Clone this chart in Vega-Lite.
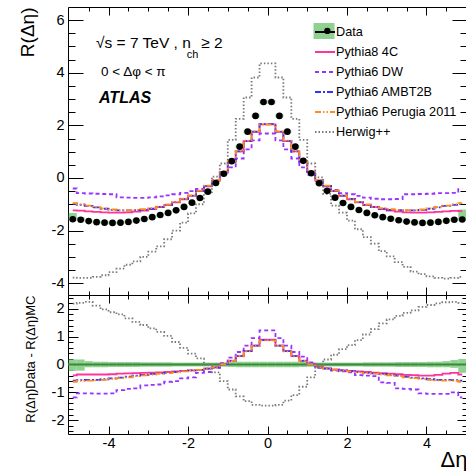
{
"$schema": "https://vega.github.io/schema/vega-lite/v6.json",
"padding": {"left": 17, "top": 6, "right": 0, "bottom": 0},
"background": "white",
"config": {
  "font": "Liberation Sans",
  "view": {"stroke": "black", "strokeWidth": 1},
  "axis": {"grid": false, "domain": false, "tickColor": "black", "tickWidth": 1, "labelColor": "black", "labelFont": "Liberation Sans", "labelFontSize": 14.5, "titleFont": "Liberation Sans", "titleFontWeight": "normal", "titleColor": "black", "labelFlush": false, "labelOverlap": false}
},
"datasets": {
"obs": [
{"model":"Data","x":-4.9,"x0":-5.0,"x1":-4.8,"r":-1.57,"rlo":-1.62,"rhi":-1.33,"dlo":-0.23,"dhi":0.18},
{"model":"Data","x":-4.7,"x0":-4.8,"x1":-4.6,"r":-1.59,"rlo":-1.64,"rhi":-1.50,"dlo":-0.22,"dhi":0.18},
{"model":"Data","x":-4.5,"x0":-4.6,"x1":-4.4,"r":-1.64,"rlo":-1.69,"rhi":-1.59,"dlo":-0.10,"dhi":0.12},
{"model":"Data","x":-4.3,"x0":-4.4,"x1":-4.2,"r":-1.68,"rlo":-1.73,"rhi":-1.63,"dlo":-0.10,"dhi":0.10},
{"model":"Data","x":-4.1,"x0":-4.2,"x1":-4.0,"r":-1.70,"rlo":-1.75,"rhi":-1.65,"dlo":-0.10,"dhi":0.10},
{"model":"Data","x":-3.9,"x0":-4.0,"x1":-3.8,"r":-1.71,"rlo":-1.76,"rhi":-1.66,"dlo":-0.09,"dhi":0.09},
{"model":"Data","x":-3.7,"x0":-3.8,"x1":-3.6,"r":-1.70,"rlo":-1.75,"rhi":-1.65,"dlo":-0.09,"dhi":0.09},
{"model":"Data","x":-3.5,"x0":-3.6,"x1":-3.4,"r":-1.67,"rlo":-1.72,"rhi":-1.62,"dlo":-0.09,"dhi":0.09},
{"model":"Data","x":-3.3,"x0":-3.4,"x1":-3.2,"r":-1.62,"rlo":-1.67,"rhi":-1.57,"dlo":-0.09,"dhi":0.09},
{"model":"Data","x":-3.1,"x0":-3.2,"x1":-3.0,"r":-1.56,"rlo":-1.61,"rhi":-1.51,"dlo":-0.08,"dhi":0.08},
{"model":"Data","x":-2.9,"x0":-3.0,"x1":-2.8,"r":-1.49,"rlo":-1.54,"rhi":-1.44,"dlo":-0.08,"dhi":0.08},
{"model":"Data","x":-2.7,"x0":-2.8,"x1":-2.6,"r":-1.41,"rlo":-1.46,"rhi":-1.36,"dlo":-0.08,"dhi":0.08},
{"model":"Data","x":-2.5,"x0":-2.6,"x1":-2.4,"r":-1.33,"rlo":-1.38,"rhi":-1.28,"dlo":-0.08,"dhi":0.08},
{"model":"Data","x":-2.3,"x0":-2.4,"x1":-2.2,"r":-1.23,"rlo":-1.28,"rhi":-1.18,"dlo":-0.07,"dhi":0.07},
{"model":"Data","x":-2.1,"x0":-2.2,"x1":-2.0,"r":-1.10,"rlo":-1.15,"rhi":-1.05,"dlo":-0.07,"dhi":0.07},
{"model":"Data","x":-1.9,"x0":-2.0,"x1":-1.8,"r":-0.94,"rlo":-0.99,"rhi":-0.89,"dlo":-0.07,"dhi":0.07},
{"model":"Data","x":-1.7,"x0":-1.8,"x1":-1.6,"r":-0.76,"rlo":-0.81,"rhi":-0.71,"dlo":-0.07,"dhi":0.07},
{"model":"Data","x":-1.5,"x0":-1.6,"x1":-1.4,"r":-0.52,"rlo":-0.57,"rhi":-0.47,"dlo":-0.07,"dhi":0.07},
{"model":"Data","x":-1.3,"x0":-1.4,"x1":-1.2,"r":-0.19,"rlo":-0.24,"rhi":-0.14,"dlo":-0.07,"dhi":0.07},
{"model":"Data","x":-1.1,"x0":-1.2,"x1":-1.0,"r":0.16,"rlo":0.11,"rhi":0.21,"dlo":-0.08,"dhi":0.08},
{"model":"Data","x":-0.9,"x0":-1.0,"x1":-0.8,"r":0.64,"rlo":0.58,"rhi":0.70,"dlo":-0.09,"dhi":0.09},
{"model":"Data","x":-0.7,"x0":-0.8,"x1":-0.6,"r":1.19,"rlo":1.13,"rhi":1.25,"dlo":-0.10,"dhi":0.10},
{"model":"Data","x":-0.5,"x0":-0.6,"x1":-0.4,"r":1.76,"rlo":1.70,"rhi":1.82,"dlo":-0.10,"dhi":0.10},
{"model":"Data","x":-0.3,"x0":-0.4,"x1":-0.2,"r":2.36,"rlo":2.30,"rhi":2.42,"dlo":-0.10,"dhi":0.10},
{"model":"Data","x":-0.1,"x0":-0.2,"x1":0.0,"r":2.89,"rlo":2.83,"rhi":2.95,"dlo":-0.10,"dhi":0.10},
{"model":"Data","x":0.1,"x0":0.0,"x1":0.2,"r":2.89,"rlo":2.83,"rhi":2.95,"dlo":-0.10,"dhi":0.10},
{"model":"Data","x":0.3,"x0":0.2,"x1":0.4,"r":2.36,"rlo":2.30,"rhi":2.42,"dlo":-0.10,"dhi":0.10},
{"model":"Data","x":0.5,"x0":0.4,"x1":0.6,"r":1.76,"rlo":1.70,"rhi":1.82,"dlo":-0.10,"dhi":0.10},
{"model":"Data","x":0.7,"x0":0.6,"x1":0.8,"r":1.19,"rlo":1.13,"rhi":1.25,"dlo":-0.10,"dhi":0.10},
{"model":"Data","x":0.9,"x0":0.8,"x1":1.0,"r":0.65,"rlo":0.59,"rhi":0.71,"dlo":-0.09,"dhi":0.09},
{"model":"Data","x":1.1,"x0":1.0,"x1":1.2,"r":0.18,"rlo":0.13,"rhi":0.23,"dlo":-0.08,"dhi":0.08},
{"model":"Data","x":1.3,"x0":1.2,"x1":1.4,"r":-0.20,"rlo":-0.25,"rhi":-0.15,"dlo":-0.07,"dhi":0.07},
{"model":"Data","x":1.5,"x0":1.4,"x1":1.6,"r":-0.49,"rlo":-0.54,"rhi":-0.44,"dlo":-0.07,"dhi":0.07},
{"model":"Data","x":1.7,"x0":1.6,"x1":1.8,"r":-0.75,"rlo":-0.80,"rhi":-0.70,"dlo":-0.07,"dhi":0.07},
{"model":"Data","x":1.9,"x0":1.8,"x1":2.0,"r":-0.95,"rlo":-1.00,"rhi":-0.90,"dlo":-0.07,"dhi":0.07},
{"model":"Data","x":2.1,"x0":2.0,"x1":2.2,"r":-1.10,"rlo":-1.15,"rhi":-1.05,"dlo":-0.07,"dhi":0.07},
{"model":"Data","x":2.3,"x0":2.2,"x1":2.4,"r":-1.22,"rlo":-1.27,"rhi":-1.17,"dlo":-0.07,"dhi":0.07},
{"model":"Data","x":2.5,"x0":2.4,"x1":2.6,"r":-1.33,"rlo":-1.38,"rhi":-1.28,"dlo":-0.08,"dhi":0.08},
{"model":"Data","x":2.7,"x0":2.6,"x1":2.8,"r":-1.42,"rlo":-1.47,"rhi":-1.37,"dlo":-0.08,"dhi":0.08},
{"model":"Data","x":2.9,"x0":2.8,"x1":3.0,"r":-1.49,"rlo":-1.54,"rhi":-1.44,"dlo":-0.08,"dhi":0.08},
{"model":"Data","x":3.1,"x0":3.0,"x1":3.2,"r":-1.55,"rlo":-1.60,"rhi":-1.50,"dlo":-0.08,"dhi":0.08},
{"model":"Data","x":3.3,"x0":3.2,"x1":3.4,"r":-1.61,"rlo":-1.66,"rhi":-1.56,"dlo":-0.09,"dhi":0.09},
{"model":"Data","x":3.5,"x0":3.4,"x1":3.6,"r":-1.66,"rlo":-1.71,"rhi":-1.61,"dlo":-0.09,"dhi":0.09},
{"model":"Data","x":3.7,"x0":3.6,"x1":3.8,"r":-1.69,"rlo":-1.74,"rhi":-1.64,"dlo":-0.09,"dhi":0.09},
{"model":"Data","x":3.9,"x0":3.8,"x1":4.0,"r":-1.71,"rlo":-1.76,"rhi":-1.66,"dlo":-0.09,"dhi":0.09},
{"model":"Data","x":4.1,"x0":4.0,"x1":4.2,"r":-1.70,"rlo":-1.75,"rhi":-1.65,"dlo":-0.10,"dhi":0.10},
{"model":"Data","x":4.3,"x0":4.2,"x1":4.4,"r":-1.67,"rlo":-1.72,"rhi":-1.62,"dlo":-0.10,"dhi":0.10},
{"model":"Data","x":4.5,"x0":4.4,"x1":4.6,"r":-1.63,"rlo":-1.68,"rhi":-1.58,"dlo":-0.10,"dhi":0.12},
{"model":"Data","x":4.7,"x0":4.6,"x1":4.8,"r":-1.59,"rlo":-1.64,"rhi":-1.52,"dlo":-0.12,"dhi":0.16},
{"model":"Data","x":4.9,"x0":4.8,"x1":5.0,"r":-1.58,"rlo":-1.63,"rhi":-1.20,"dlo":-0.30,"dhi":0.20}
],
"mc": [
{"model":"Pythia8 4C","x":-4.9,"r":-1.23,"d":-0.39},{"model":"Pythia8 4C","x":-4.7,"r":-1.24,"d":-0.36},{"model":"Pythia8 4C","x":-4.5,"r":-1.27,"d":-0.36},{"model":"Pythia8 4C","x":-4.3,"r":-1.29,"d":-0.36},{"model":"Pythia8 4C","x":-4.1,"r":-1.31,"d":-0.36},
{"model":"Pythia8 4C","x":-3.9,"r":-1.32,"d":-0.35},{"model":"Pythia8 4C","x":-3.7,"r":-1.32,"d":-0.33},{"model":"Pythia8 4C","x":-3.5,"r":-1.31,"d":-0.32},{"model":"Pythia8 4C","x":-3.3,"r":-1.28,"d":-0.31},{"model":"Pythia8 4C","x":-3.1,"r":-1.24,"d":-0.30},
{"model":"Pythia8 4C","x":-2.9,"r":-1.18,"d":-0.29},{"model":"Pythia8 4C","x":-2.7,"r":-1.11,"d":-0.28},{"model":"Pythia8 4C","x":-2.5,"r":-1.03,"d":-0.27},{"model":"Pythia8 4C","x":-2.3,"r":-0.93,"d":-0.25},{"model":"Pythia8 4C","x":-2.1,"r":-0.81,"d":-0.23},
{"model":"Pythia8 4C","x":-1.9,"r":-0.68,"d":-0.21},{"model":"Pythia8 4C","x":-1.7,"r":-0.50,"d":-0.19},{"model":"Pythia8 4C","x":-1.5,"r":-0.32,"d":-0.15},{"model":"Pythia8 4C","x":-1.3,"r":-0.10,"d":-0.10},{"model":"Pythia8 4C","x":-1.1,"r":0.22,"d":0.02},
{"model":"Pythia8 4C","x":-0.9,"r":0.62,"d":0.14},{"model":"Pythia8 4C","x":-0.7,"r":1.01,"d":0.30},{"model":"Pythia8 4C","x":-0.5,"r":1.40,"d":0.48},{"model":"Pythia8 4C","x":-0.3,"r":1.75,"d":0.68},{"model":"Pythia8 4C","x":-0.1,"r":2.04,"d":0.89},
{"model":"Pythia8 4C","x":0.1,"r":2.04,"d":0.89},{"model":"Pythia8 4C","x":0.3,"r":1.75,"d":0.68},{"model":"Pythia8 4C","x":0.5,"r":1.40,"d":0.48},{"model":"Pythia8 4C","x":0.7,"r":1.01,"d":0.30},{"model":"Pythia8 4C","x":0.9,"r":0.62,"d":0.14},
{"model":"Pythia8 4C","x":1.1,"r":0.22,"d":0.02},{"model":"Pythia8 4C","x":1.3,"r":-0.10,"d":-0.08},{"model":"Pythia8 4C","x":1.5,"r":-0.32,"d":-0.14},{"model":"Pythia8 4C","x":1.7,"r":-0.50,"d":-0.18},{"model":"Pythia8 4C","x":1.9,"r":-0.68,"d":-0.21},
{"model":"Pythia8 4C","x":2.1,"r":-0.81,"d":-0.23},{"model":"Pythia8 4C","x":2.3,"r":-0.93,"d":-0.25},{"model":"Pythia8 4C","x":2.5,"r":-1.03,"d":-0.27},{"model":"Pythia8 4C","x":2.7,"r":-1.11,"d":-0.29},{"model":"Pythia8 4C","x":2.9,"r":-1.18,"d":-0.31},
{"model":"Pythia8 4C","x":3.1,"r":-1.24,"d":-0.33},{"model":"Pythia8 4C","x":3.3,"r":-1.28,"d":-0.35},{"model":"Pythia8 4C","x":3.5,"r":-1.31,"d":-0.37},{"model":"Pythia8 4C","x":3.7,"r":-1.32,"d":-0.38},{"model":"Pythia8 4C","x":3.9,"r":-1.32,"d":-0.40},
{"model":"Pythia8 4C","x":4.1,"r":-1.31,"d":-0.40},{"model":"Pythia8 4C","x":4.3,"r":-1.29,"d":-0.37},{"model":"Pythia8 4C","x":4.5,"r":-1.27,"d":-0.33},{"model":"Pythia8 4C","x":4.7,"r":-1.25,"d":-0.30},{"model":"Pythia8 4C","x":4.9,"r":-1.26,"d":-0.36},

{"model":"Pythia6 DW","x":-4.9,"r":-0.40,"d":-1.18},{"model":"Pythia6 DW","x":-4.7,"r":-0.58,"d":-1.04},{"model":"Pythia6 DW","x":-4.5,"r":-0.59,"d":-1.04},{"model":"Pythia6 DW","x":-4.3,"r":-0.60,"d":-1.05},{"model":"Pythia6 DW","x":-4.1,"r":-0.61,"d":-1.05},
{"model":"Pythia6 DW","x":-3.9,"r":-0.62,"d":-1.04},{"model":"Pythia6 DW","x":-3.7,"r":-0.74,"d":-0.92},{"model":"Pythia6 DW","x":-3.5,"r":-0.75,"d":-0.88},{"model":"Pythia6 DW","x":-3.3,"r":-0.76,"d":-0.86},{"model":"Pythia6 DW","x":-3.1,"r":-0.76,"d":-0.75},
{"model":"Pythia6 DW","x":-2.9,"r":-0.74,"d":-0.73},{"model":"Pythia6 DW","x":-2.7,"r":-0.70,"d":-0.72},{"model":"Pythia6 DW","x":-2.5,"r":-0.66,"d":-0.62},{"model":"Pythia6 DW","x":-2.3,"r":-0.62,"d":-0.60},{"model":"Pythia6 DW","x":-2.1,"r":-0.57,"d":-0.50},
{"model":"Pythia6 DW","x":-1.9,"r":-0.50,"d":-0.46},{"model":"Pythia6 DW","x":-1.7,"r":-0.42,"d":-0.30},{"model":"Pythia6 DW","x":-1.5,"r":-0.30,"d":-0.27},{"model":"Pythia6 DW","x":-1.3,"r":-0.12,"d":-0.12},{"model":"Pythia6 DW","x":-1.1,"r":0.12,"d":0.05},
{"model":"Pythia6 DW","x":-0.9,"r":0.40,"d":0.25},{"model":"Pythia6 DW","x":-0.7,"r":0.74,"d":0.45},{"model":"Pythia6 DW","x":-0.5,"r":1.09,"d":0.68},{"model":"Pythia6 DW","x":-0.3,"r":1.43,"d":0.95},{"model":"Pythia6 DW","x":-0.1,"r":1.69,"d":1.23},
{"model":"Pythia6 DW","x":0.1,"r":1.69,"d":1.23},{"model":"Pythia6 DW","x":0.3,"r":1.43,"d":0.95},{"model":"Pythia6 DW","x":0.5,"r":1.09,"d":0.68},{"model":"Pythia6 DW","x":0.7,"r":0.74,"d":0.45},{"model":"Pythia6 DW","x":0.9,"r":0.40,"d":0.28},
{"model":"Pythia6 DW","x":1.1,"r":0.12,"d":0.08},{"model":"Pythia6 DW","x":1.3,"r":-0.12,"d":-0.12},{"model":"Pythia6 DW","x":1.5,"r":-0.30,"d":-0.14},{"model":"Pythia6 DW","x":1.7,"r":-0.45,"d":-0.22},{"model":"Pythia6 DW","x":1.9,"r":-0.58,"d":-0.25},
{"model":"Pythia6 DW","x":2.1,"r":-0.62,"d":-0.28},{"model":"Pythia6 DW","x":2.3,"r":-0.68,"d":-0.38},{"model":"Pythia6 DW","x":2.5,"r":-0.75,"d":-0.40},{"model":"Pythia6 DW","x":2.7,"r":-0.79,"d":-0.42},{"model":"Pythia6 DW","x":2.9,"r":-0.81,"d":-0.64},
{"model":"Pythia6 DW","x":3.1,"r":-0.81,"d":-0.66},{"model":"Pythia6 DW","x":3.3,"r":-0.80,"d":-0.86},{"model":"Pythia6 DW","x":3.5,"r":-0.62,"d":-0.88},{"model":"Pythia6 DW","x":3.7,"r":-0.62,"d":-0.90},{"model":"Pythia6 DW","x":3.9,"r":-0.61,"d":-1.04},
{"model":"Pythia6 DW","x":4.1,"r":-0.60,"d":-1.06},{"model":"Pythia6 DW","x":4.3,"r":-0.58,"d":-1.06},{"model":"Pythia6 DW","x":4.5,"r":-0.58,"d":-1.06},{"model":"Pythia6 DW","x":4.7,"r":-0.57,"d":-1.00},{"model":"Pythia6 DW","x":4.9,"r":-0.43,"d":-1.18},

{"model":"Pythia6 AMBT2B","x":-4.9,"r":-0.98,"d":-0.58},{"model":"Pythia6 AMBT2B","x":-4.7,"r":-1.02,"d":-0.56},{"model":"Pythia6 AMBT2B","x":-4.5,"r":-1.06,"d":-0.55},{"model":"Pythia6 AMBT2B","x":-4.3,"r":-1.12,"d":-0.55},{"model":"Pythia6 AMBT2B","x":-4.1,"r":-1.17,"d":-0.53},
{"model":"Pythia6 AMBT2B","x":-3.9,"r":-1.21,"d":-0.50},{"model":"Pythia6 AMBT2B","x":-3.7,"r":-1.23,"d":-0.47},{"model":"Pythia6 AMBT2B","x":-3.5,"r":-1.23,"d":-0.44},{"model":"Pythia6 AMBT2B","x":-3.3,"r":-1.22,"d":-0.40},{"model":"Pythia6 AMBT2B","x":-3.1,"r":-1.21,"d":-0.37},
{"model":"Pythia6 AMBT2B","x":-2.9,"r":-1.17,"d":-0.34},{"model":"Pythia6 AMBT2B","x":-2.7,"r":-1.10,"d":-0.32},{"model":"Pythia6 AMBT2B","x":-2.5,"r":-1.02,"d":-0.30},{"model":"Pythia6 AMBT2B","x":-2.3,"r":-0.92,"d":-0.27},{"model":"Pythia6 AMBT2B","x":-2.1,"r":-0.80,"d":-0.24},
{"model":"Pythia6 AMBT2B","x":-1.9,"r":-0.67,"d":-0.21},{"model":"Pythia6 AMBT2B","x":-1.7,"r":-0.49,"d":-0.19},{"model":"Pythia6 AMBT2B","x":-1.5,"r":-0.30,"d":-0.15},{"model":"Pythia6 AMBT2B","x":-1.3,"r":-0.09,"d":-0.10},{"model":"Pythia6 AMBT2B","x":-1.1,"r":0.23,"d":0.01},
{"model":"Pythia6 AMBT2B","x":-0.9,"r":0.62,"d":0.13},{"model":"Pythia6 AMBT2B","x":-0.7,"r":1.01,"d":0.30},{"model":"Pythia6 AMBT2B","x":-0.5,"r":1.40,"d":0.48},{"model":"Pythia6 AMBT2B","x":-0.3,"r":1.76,"d":0.68},{"model":"Pythia6 AMBT2B","x":-0.1,"r":2.05,"d":0.88},
{"model":"Pythia6 AMBT2B","x":0.1,"r":2.05,"d":0.88},{"model":"Pythia6 AMBT2B","x":0.3,"r":1.76,"d":0.68},{"model":"Pythia6 AMBT2B","x":0.5,"r":1.40,"d":0.48},{"model":"Pythia6 AMBT2B","x":0.7,"r":1.01,"d":0.30},{"model":"Pythia6 AMBT2B","x":0.9,"r":0.62,"d":0.13},
{"model":"Pythia6 AMBT2B","x":1.1,"r":0.23,"d":0.01},{"model":"Pythia6 AMBT2B","x":1.3,"r":-0.09,"d":-0.10},{"model":"Pythia6 AMBT2B","x":1.5,"r":-0.30,"d":-0.15},{"model":"Pythia6 AMBT2B","x":1.7,"r":-0.49,"d":-0.19},{"model":"Pythia6 AMBT2B","x":1.9,"r":-0.67,"d":-0.21},
{"model":"Pythia6 AMBT2B","x":2.1,"r":-0.80,"d":-0.24},{"model":"Pythia6 AMBT2B","x":2.3,"r":-0.92,"d":-0.27},{"model":"Pythia6 AMBT2B","x":2.5,"r":-1.02,"d":-0.30},{"model":"Pythia6 AMBT2B","x":2.7,"r":-1.10,"d":-0.32},{"model":"Pythia6 AMBT2B","x":2.9,"r":-1.17,"d":-0.34},
{"model":"Pythia6 AMBT2B","x":3.1,"r":-1.21,"d":-0.37},{"model":"Pythia6 AMBT2B","x":3.3,"r":-1.22,"d":-0.40},{"model":"Pythia6 AMBT2B","x":3.5,"r":-1.23,"d":-0.44},{"model":"Pythia6 AMBT2B","x":3.7,"r":-1.23,"d":-0.47},{"model":"Pythia6 AMBT2B","x":3.9,"r":-1.21,"d":-0.50},
{"model":"Pythia6 AMBT2B","x":4.1,"r":-1.17,"d":-0.53},{"model":"Pythia6 AMBT2B","x":4.3,"r":-1.12,"d":-0.55},{"model":"Pythia6 AMBT2B","x":4.5,"r":-1.06,"d":-0.55},{"model":"Pythia6 AMBT2B","x":4.7,"r":-1.02,"d":-0.56},{"model":"Pythia6 AMBT2B","x":4.9,"r":-0.98,"d":-0.58},

{"model":"Pythia6 Perugia 2011","x":-4.9,"r":-0.96,"d":-0.62},{"model":"Pythia6 Perugia 2011","x":-4.7,"r":-1.00,"d":-0.59},{"model":"Pythia6 Perugia 2011","x":-4.5,"r":-1.05,"d":-0.58},{"model":"Pythia6 Perugia 2011","x":-4.3,"r":-1.11,"d":-0.57},{"model":"Pythia6 Perugia 2011","x":-4.1,"r":-1.16,"d":-0.55},
{"model":"Pythia6 Perugia 2011","x":-3.9,"r":-1.20,"d":-0.52},{"model":"Pythia6 Perugia 2011","x":-3.7,"r":-1.22,"d":-0.49},{"model":"Pythia6 Perugia 2011","x":-3.5,"r":-1.22,"d":-0.46},{"model":"Pythia6 Perugia 2011","x":-3.3,"r":-1.21,"d":-0.42},{"model":"Pythia6 Perugia 2011","x":-3.1,"r":-1.19,"d":-0.39},
{"model":"Pythia6 Perugia 2011","x":-2.9,"r":-1.15,"d":-0.36},{"model":"Pythia6 Perugia 2011","x":-2.7,"r":-1.09,"d":-0.33},{"model":"Pythia6 Perugia 2011","x":-2.5,"r":-1.01,"d":-0.31},{"model":"Pythia6 Perugia 2011","x":-2.3,"r":-0.91,"d":-0.28},{"model":"Pythia6 Perugia 2011","x":-2.1,"r":-0.79,"d":-0.25},
{"model":"Pythia6 Perugia 2011","x":-1.9,"r":-0.66,"d":-0.22},{"model":"Pythia6 Perugia 2011","x":-1.7,"r":-0.48,"d":-0.19},{"model":"Pythia6 Perugia 2011","x":-1.5,"r":-0.29,"d":-0.15},{"model":"Pythia6 Perugia 2011","x":-1.3,"r":-0.08,"d":-0.10},{"model":"Pythia6 Perugia 2011","x":-1.1,"r":0.24,"d":0.01},
{"model":"Pythia6 Perugia 2011","x":-0.9,"r":0.63,"d":0.13},{"model":"Pythia6 Perugia 2011","x":-0.7,"r":1.03,"d":0.29},{"model":"Pythia6 Perugia 2011","x":-0.5,"r":1.42,"d":0.47},{"model":"Pythia6 Perugia 2011","x":-0.3,"r":1.77,"d":0.67},{"model":"Pythia6 Perugia 2011","x":-0.1,"r":2.03,"d":0.87},
{"model":"Pythia6 Perugia 2011","x":0.1,"r":2.03,"d":0.87},{"model":"Pythia6 Perugia 2011","x":0.3,"r":1.77,"d":0.67},{"model":"Pythia6 Perugia 2011","x":0.5,"r":1.42,"d":0.47},{"model":"Pythia6 Perugia 2011","x":0.7,"r":1.03,"d":0.29},{"model":"Pythia6 Perugia 2011","x":0.9,"r":0.63,"d":0.13},
{"model":"Pythia6 Perugia 2011","x":1.1,"r":0.24,"d":0.01},{"model":"Pythia6 Perugia 2011","x":1.3,"r":-0.08,"d":-0.10},{"model":"Pythia6 Perugia 2011","x":1.5,"r":-0.29,"d":-0.15},{"model":"Pythia6 Perugia 2011","x":1.7,"r":-0.48,"d":-0.19},{"model":"Pythia6 Perugia 2011","x":1.9,"r":-0.66,"d":-0.22},
{"model":"Pythia6 Perugia 2011","x":2.1,"r":-0.79,"d":-0.25},{"model":"Pythia6 Perugia 2011","x":2.3,"r":-0.91,"d":-0.28},{"model":"Pythia6 Perugia 2011","x":2.5,"r":-1.01,"d":-0.31},{"model":"Pythia6 Perugia 2011","x":2.7,"r":-1.09,"d":-0.33},{"model":"Pythia6 Perugia 2011","x":2.9,"r":-1.15,"d":-0.36},
{"model":"Pythia6 Perugia 2011","x":3.1,"r":-1.19,"d":-0.39},{"model":"Pythia6 Perugia 2011","x":3.3,"r":-1.21,"d":-0.42},{"model":"Pythia6 Perugia 2011","x":3.5,"r":-1.22,"d":-0.46},{"model":"Pythia6 Perugia 2011","x":3.7,"r":-1.22,"d":-0.49},{"model":"Pythia6 Perugia 2011","x":3.9,"r":-1.20,"d":-0.52},
{"model":"Pythia6 Perugia 2011","x":4.1,"r":-1.16,"d":-0.55},{"model":"Pythia6 Perugia 2011","x":4.3,"r":-1.11,"d":-0.57},{"model":"Pythia6 Perugia 2011","x":4.5,"r":-1.05,"d":-0.58},{"model":"Pythia6 Perugia 2011","x":4.7,"r":-1.00,"d":-0.59},{"model":"Pythia6 Perugia 2011","x":4.9,"r":-0.96,"d":-0.62},

{"model":"Herwig++","x":-4.9,"r":-3.79,"d":2.19},{"model":"Herwig++","x":-4.7,"r":-3.80,"d":2.22},{"model":"Herwig++","x":-4.5,"r":-3.80,"d":2.25},{"model":"Herwig++","x":-4.3,"r":-3.76,"d":2.12},{"model":"Herwig++","x":-4.1,"r":-3.70,"d":1.98},
{"model":"Herwig++","x":-3.9,"r":-3.58,"d":1.88},{"model":"Herwig++","x":-3.7,"r":-3.45,"d":1.80},{"model":"Herwig++","x":-3.5,"r":-3.30,"d":1.66},{"model":"Herwig++","x":-3.3,"r":-3.17,"d":1.53},{"model":"Herwig++","x":-3.1,"r":-3.00,"d":1.42},
{"model":"Herwig++","x":-2.9,"r":-2.80,"d":1.30},{"model":"Herwig++","x":-2.7,"r":-2.60,"d":1.17},{"model":"Herwig++","x":-2.5,"r":-2.33,"d":1.03},{"model":"Herwig++","x":-2.3,"r":-2.00,"d":0.81},{"model":"Herwig++","x":-2.1,"r":-1.70,"d":0.60},
{"model":"Herwig++","x":-1.9,"r":-1.35,"d":0.39},{"model":"Herwig++","x":-1.7,"r":-1.00,"d":0.22},{"model":"Herwig++","x":-1.5,"r":-0.55,"d":0.00},{"model":"Herwig++","x":-1.3,"r":0.05,"d":-0.28},{"model":"Herwig++","x":-1.1,"r":0.55,"d":-0.60},
{"model":"Herwig++","x":-0.9,"r":1.45,"d":-0.90},{"model":"Herwig++","x":-0.7,"r":2.25,"d":-1.15},{"model":"Herwig++","x":-0.5,"r":3.06,"d":-1.32},{"model":"Herwig++","x":-0.3,"r":3.82,"d":-1.45},{"model":"Herwig++","x":-0.1,"r":4.36,"d":-1.48},
{"model":"Herwig++","x":0.1,"r":4.36,"d":-1.48},{"model":"Herwig++","x":0.3,"r":3.82,"d":-1.45},{"model":"Herwig++","x":0.5,"r":3.06,"d":-1.30},{"model":"Herwig++","x":0.7,"r":2.25,"d":-1.10},{"model":"Herwig++","x":0.9,"r":1.45,"d":-0.80},
{"model":"Herwig++","x":1.1,"r":0.55,"d":-0.46},{"model":"Herwig++","x":1.3,"r":0.02,"d":-0.10},{"model":"Herwig++","x":1.5,"r":-0.60,"d":0.18},{"model":"Herwig++","x":1.7,"r":-1.05,"d":0.35},{"model":"Herwig++","x":1.9,"r":-1.32,"d":0.55},
{"model":"Herwig++","x":2.1,"r":-1.62,"d":0.70},{"model":"Herwig++","x":2.3,"r":-1.95,"d":0.88},{"model":"Herwig++","x":2.5,"r":-2.25,"d":1.08},{"model":"Herwig++","x":2.7,"r":-2.50,"d":1.27},{"model":"Herwig++","x":2.9,"r":-2.78,"d":1.48},
{"model":"Herwig++","x":3.1,"r":-2.98,"d":1.62},{"model":"Herwig++","x":3.3,"r":-3.20,"d":1.75},{"model":"Herwig++","x":3.5,"r":-3.38,"d":1.86},{"model":"Herwig++","x":3.7,"r":-3.56,"d":1.95},{"model":"Herwig++","x":3.9,"r":-3.66,"d":2.07},
{"model":"Herwig++","x":4.1,"r":-3.74,"d":2.14},{"model":"Herwig++","x":4.3,"r":-3.80,"d":2.20},{"model":"Herwig++","x":4.5,"r":-3.83,"d":2.24},{"model":"Herwig++","x":4.7,"r":-3.80,"d":2.25},{"model":"Herwig++","x":4.9,"r":-3.76,"d":2.22}
]
},
"spacing": 0,
"bounds": "flush",
"resolve": {
  "scale": {"x": "independent", "y": "independent", "stroke": "independent", "strokeDash": "independent", "fill": "independent", "shape": "independent"},
  "legend": {"stroke": "independent", "strokeDash": "independent", "fill": "independent", "shape": "independent"}
},
"vconcat": [
{
  "width": 399,
  "height": 288,
  "resolve": {"axis": {"x": "independent", "y": "independent"}},
  "layer": [
    {
      "data": {"name": "obs"},
      "mark": {"type": "rect", "strokeWidth": 0},
      "encoding": {
        "x": {"field": "x0", "type": "quantitative", "scale": {"domain": [-5.02, 5.02], "nice": false, "zero": false},
              "axis": {"orient": "bottom", "values": [-4, -2, 0, 2, 4], "tickSize": -8, "labels": false, "title": null}},
        "x2": {"field": "x1"},
        "y": {"field": "rlo", "type": "quantitative", "scale": {"domain": [-4.45, 6.5], "nice": false, "zero": false},
              "axis": {"orient": "left", "values": [-4, -2, 0, 2, 4, 6], "tickSize": -15, "labelPadding": 19, "labelExpr": "replace(datum.label, '\u2212', '-')",
                       "title": "R(Δη)", "titleFontSize": 19, "titleAnchor": "end", "titlePadding": 14}},
        "y2": {"field": "rhi"},
        "fill": {"field": "model", "type": "nominal", "scale": {"domain": ["Data"], "range": ["#8fd18f"]},
                 "legend": {"orient": "none", "legendX": 246, "legendY": 14, "direction": "vertical", "title": null, "padding": 0,
                            "symbolType": "M-1.05,-0.8H1.05V0.8H-1.05Z", "symbolSize": 400, "symbolStrokeWidth": 0, "symbolStrokeColor": "transparent",
                            "labelFontSize": 12.7, "labelExpr": "''", "labelOffset": 0, "zindex": 0}}
      }
    },
    {
      "data": {"name": "mc"},
      "mark": {"type": "line", "interpolate": "step", "strokeWidth": 1.8},
      "encoding": {
        "x": {"field": "x", "type": "quantitative",
              "axis": {"orient": "bottom", "values": [-4.5, -3.5, -3, -2.5, -1.5, -1, -0.5, 0.5, 1, 1.5, 2.5, 3, 3.5, 4.5], "tickSize": -4, "labels": false, "title": null}},
        "y": {"field": "r", "type": "quantitative",
              "axis": {"orient": "left", "values": [-3.5, -3, -2.5, -1.5, -1, -0.5, 0.5, 1, 1.5, 2.5, 3, 3.5, 4.5, 5, 5.5], "tickSize": -7, "labels": false, "title": null}},
        "stroke": {"field": "model", "type": "nominal",
                   "scale": {"domain": ["Data", "Pythia8 4C", "Pythia6 DW", "Pythia6 AMBT2B", "Pythia6 Perugia 2011", "Herwig++"],
                             "range": ["black", "#ff3399", "#9933ff", "#3333ff", "#ff8c1a", "#7a7a7a"]},
                   "legend": {"orient": "none", "legendX": 246, "legendY": 14, "direction": "vertical", "title": null, "padding": 0,
                              "symbolType": "stroke", "symbolSize": 400, "symbolStrokeWidth": 2,
                              "labelFont": "Liberation Sans", "labelFontSize": 12.7, "labelColor": "black", "labelOffset": 0, "rowPadding": 2, "zindex": 1}},
        "strokeDash": {"field": "model", "type": "nominal",
                   "scale": {"domain": ["Data", "Pythia8 4C", "Pythia6 DW", "Pythia6 AMBT2B", "Pythia6 Perugia 2011", "Herwig++"],
                             "range": [[1, 0], [1, 0], [4, 3], [6, 2, 2, 2], [6, 2, 1.5, 2, 1.5, 2], [1.5, 2]]},
                   "legend": {"orient": "none", "legendX": 246, "legendY": 14, "direction": "vertical", "title": null, "padding": 0,
                              "symbolType": "stroke", "symbolSize": 400, "symbolStrokeWidth": 2,
                              "labelFont": "Liberation Sans", "labelFontSize": 12.7, "labelColor": "black", "labelOffset": 0, "rowPadding": 2, "zindex": 1}}
      }
    },
    {
      "data": {"name": "obs"},
      "mark": {"type": "point", "filled": true, "size": 44, "color": "black", "opacity": 1},
      "encoding": {
        "x": {"field": "x", "type": "quantitative",
              "axis": {"orient": "top", "values": [-4, -2, 0, 2, 4], "tickSize": -8, "labels": false, "title": null}},
        "y": {"field": "r", "type": "quantitative",
              "axis": {"orient": "right", "values": [-4, -2, 0, 2, 4, 6], "tickSize": -15, "labels": false, "title": null}},
        "shape": {"field": "model", "type": "nominal", "scale": {"domain": ["Data", "Pythia8 4C"], "range": ["circle", "M0,0"]},
                  "legend": {"orient": "none", "legendX": 253, "legendY": 17.6, "direction": "vertical", "title": null, "padding": 0,
                             "symbolSize": 40, "symbolFillColor": "black", "symbolStrokeWidth": 0,
                             "labelFontSize": 12.7, "labelExpr": "''", "labelOffset": 0, "zindex": 2}}
      }
    },
    {
      "data": {"name": "obs"},
      "mark": {"type": "point", "opacity": 0},
      "encoding": {
        "x": {"field": "x", "type": "quantitative",
              "axis": {"orient": "top", "values": [-4.5, -3.5, -3, -2.5, -1.5, -1, -0.5, 0.5, 1, 1.5, 2.5, 3, 3.5, 4.5], "tickSize": -4, "labels": false, "title": null}},
        "y": {"field": "r", "type": "quantitative",
              "axis": {"orient": "right", "values": [-3.5, -3, -2.5, -1.5, -1, -0.5, 0.5, 1, 1.5, 2.5, 3, 3.5, 4.5, 5, 5.5], "tickSize": -7, "labels": false, "title": null}}
      }
    },
    {
      "data": {"values": [{}]},
      "mark": {"type": "text", "text": "√s = 7 TeV , n", "align": "left", "baseline": "alphabetic", "font": "Liberation Sans", "fontSize": 15.5, "color": "black"},
      "encoding": {"x": {"datum": -4.315, "type": "quantitative", "axis": null}, "y": {"datum": 4.95, "type": "quantitative", "axis": null}}
    },
    {
      "data": {"values": [{}]},
      "mark": {"type": "text", "text": "ch", "align": "left", "baseline": "alphabetic", "font": "Liberation Sans", "fontSize": 11, "color": "black"},
      "encoding": {"x": {"datum": -2.03, "type": "quantitative", "axis": null}, "y": {"datum": 4.56, "type": "quantitative", "axis": null}}
    },
    {
      "data": {"values": [{}]},
      "mark": {"type": "text", "text": "≥ 2", "align": "left", "baseline": "alphabetic", "font": "Liberation Sans", "fontSize": 15.5, "color": "black"},
      "encoding": {"x": {"datum": -1.67, "type": "quantitative", "axis": null}, "y": {"datum": 4.95, "type": "quantitative", "axis": null}}
    },
    {
      "data": {"values": [{}]},
      "mark": {"type": "text", "text": "0 < Δφ < π", "align": "left", "baseline": "alphabetic", "font": "Liberation Sans", "fontSize": 13.5, "color": "black"},
      "encoding": {"x": {"datum": -4.19, "type": "quantitative", "axis": null}, "y": {"datum": 3.88, "type": "quantitative", "axis": null}}
    },
    {
      "data": {"values": [{}]},
      "mark": {"type": "text", "text": "ATLAS", "align": "left", "baseline": "alphabetic", "font": "Liberation Sans", "fontSize": 16, "fontStyle": "italic", "fontWeight": "bold", "color": "black"},
      "encoding": {"x": {"datum": -4.24, "type": "quantitative", "axis": null}, "y": {"datum": 2.85, "type": "quantitative", "axis": null}}
    }
  ]
},
{
  "width": 399,
  "height": 139,
  "resolve": {"axis": {"x": "independent", "y": "independent"}},
  "layer": [
    {
      "data": {"name": "obs"},
      "mark": {"type": "rect", "color": "#8fd18f", "strokeWidth": 0},
      "encoding": {
        "x": {"field": "x0", "type": "quantitative", "scale": {"domain": [-5.02, 5.02], "nice": false, "zero": false},
              "axis": {"orient": "bottom", "values": [-4, -2, 0, 2, 4], "tickSize": -8, "labelPadding": 10, "labelExpr": "replace(datum.label, '\u2212', '-')",
                       "title": "Δη", "titleFontSize": 22, "titleAnchor": "end", "titlePadding": 0}},
        "x2": {"field": "x1"},
        "y": {"field": "dlo", "type": "quantitative", "scale": {"domain": [-2.5, 2.5], "nice": false, "zero": false},
              "axis": {"orient": "left", "values": [-2, -1, 0, 1, 2], "tickSize": -10, "labelPadding": 14, "labelExpr": "replace(datum.label, '\u2212', '-')",
                       "title": "R(Δη)Data - R(Δη)MC", "titleFontSize": 13, "titleAnchor": "end", "titlePadding": 14}},
        "y2": {"field": "dhi"}
      }
    },
    {
      "data": {"values": [{}]},
      "mark": {"type": "rule", "color": "#3a8a3a", "strokeWidth": 2},
      "encoding": {"y": {"datum": 0, "type": "quantitative", "axis": null}}
    },
    {
      "data": {"name": "mc"},
      "mark": {"type": "line", "interpolate": "step", "strokeWidth": 1.8},
      "encoding": {
        "x": {"field": "x", "type": "quantitative",
              "axis": {"orient": "bottom", "values": [-4.5, -3.5, -3, -2.5, -1.5, -1, -0.5, 0.5, 1, 1.5, 2.5, 3, 3.5, 4.5], "tickSize": -4, "labels": false, "title": null}},
        "y": {"field": "d", "type": "quantitative",
              "axis": {"orient": "left", "values": [-2.4, -2.2, -1.8, -1.6, -1.4, -1.2, -0.8, -0.6, -0.4, -0.2, 0.2, 0.4, 0.6, 0.8, 1.2, 1.4, 1.6, 1.8, 2.2, 2.4], "tickSize": -5, "labels": false, "title": null}},
        "stroke": {"field": "model", "type": "nominal",
                   "scale": {"domain": ["Data", "Pythia8 4C", "Pythia6 DW", "Pythia6 AMBT2B", "Pythia6 Perugia 2011", "Herwig++"],
                             "range": ["black", "#ff3399", "#9933ff", "#3333ff", "#ff8c1a", "#7a7a7a"]}, "legend": null},
        "strokeDash": {"field": "model", "type": "nominal",
                   "scale": {"domain": ["Data", "Pythia8 4C", "Pythia6 DW", "Pythia6 AMBT2B", "Pythia6 Perugia 2011", "Herwig++"],
                             "range": [[1, 0], [1, 0], [4, 3], [6, 2, 2, 2], [6, 2, 1.5, 2, 1.5, 2], [1.5, 2]]}, "legend": null}
      }
    },
    {
      "data": {"name": "obs"},
      "mark": {"type": "point", "opacity": 0},
      "encoding": {
        "x": {"field": "x", "type": "quantitative",
              "axis": {"orient": "top", "values": [-4, -2, 0, 2, 4], "tickSize": -8, "labels": false, "title": null}},
        "y": {"field": "dlo", "type": "quantitative",
              "axis": {"orient": "right", "values": [-2, -1, 0, 1, 2], "tickSize": -10, "labels": false, "title": null}}
      }
    },
    {
      "data": {"name": "obs"},
      "mark": {"type": "point", "opacity": 0},
      "encoding": {
        "x": {"field": "x", "type": "quantitative",
              "axis": {"orient": "top", "values": [-4.5, -3.5, -3, -2.5, -1.5, -1, -0.5, 0.5, 1, 1.5, 2.5, 3, 3.5, 4.5], "tickSize": -4, "labels": false, "title": null}},
        "y": {"field": "dlo", "type": "quantitative",
              "axis": {"orient": "right", "values": [-2.4, -2.2, -1.8, -1.6, -1.4, -1.2, -0.8, -0.6, -0.4, -0.2, 0.2, 0.4, 0.6, 0.8, 1.2, 1.4, 1.6, 1.8, 2.2, 2.4], "tickSize": -5, "labels": false, "title": null}}
      }
    }
  ]
}
]
}
